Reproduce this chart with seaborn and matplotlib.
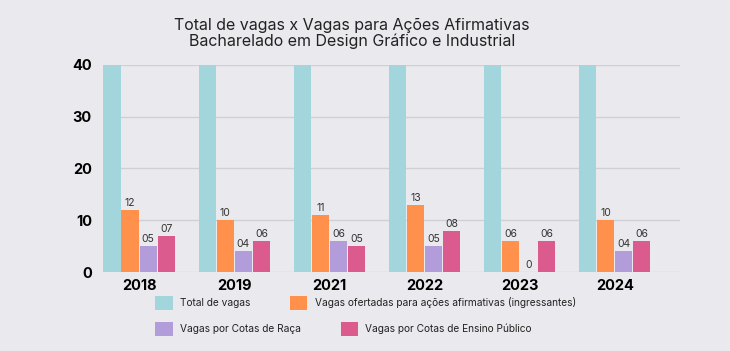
import pandas as pd
import seaborn as sns
import matplotlib.pyplot as plt
from matplotlib.patches import Patch

# dados
anos = ['2018', '2019', '2021', '2022', '2023', '2024']
total_vagas = [40, 40, 40, 40, 40, 40]
vagas_acoes = [12, 10, 11, 13, 6, 10]
cotas_raca = [5, 4, 6, 5, 0, 4]
cotas_publico = [7, 6, 5, 8, 6, 6]

series = ['Total de vagas',
          'Vagas ofertadas para ações afirmativas (ingressantes)',
          'Vagas por Cotas de Raça',
          'Vagas por Cotas de Ensino Público']
cores = ['#a2d5dc', '#ff914d', '#b29cda', '#dc5b8f']

df = pd.DataFrame({
    'ano': anos * 4,
    'serie': [s for s in series for _ in anos],
    'valor': total_vagas + vagas_acoes + cotas_raca + cotas_publico,
})

bg = '#eaeaee'
sns.set_style("white", {'axes.facecolor': bg, 'figure.facecolor': bg})
plt.rcParams['font.family'] = ['Inter', 'DejaVu Sans']

fig = plt.figure(figsize=(7.3, 3.51), dpi=100)
ax = fig.add_axes([0.141, 0.225, 0.791, 0.590])
ax.set_facecolor('none')

sns.barplot(data=df, x='ano', y='valor', hue='serie', hue_order=series,
            palette=cores, saturation=1, width=0.76, gap=0.05, ax=ax,
            legend=False, zorder=3, linewidth=0)

# rótulos dos valores
def fmt(v):
    return '0' if v == 0 else f'{v:02d}'

for cont, vals in zip(ax.containers[1:], [vagas_acoes, cotas_raca, cotas_publico]):
    ax.bar_label(cont, labels=[fmt(v) for v in vals], padding=1.5,
                 fontsize=7.5, color='#333333')

ax.set_ylim(0, 40)
ax.set_xlim(-0.38, 5.69)
ax.set_yticks([0, 10, 20, 30, 40])
ax.yaxis.grid(True, color='#cfcfd6', linewidth=1, zorder=0)
ax.set_axisbelow(True)
for s in ax.spines.values():
    s.set_visible(False)
ax.tick_params(axis='both', length=0, labelsize=10.5, colors='black')
ax.tick_params(axis='y', pad=8)
ax.tick_params(axis='x', pad=5)
for t in ax.get_xticklabels() + ax.get_yticklabels():
    t.set_fontweight('bold')
ax.set_xlabel(None)
ax.set_ylabel(None)

fig.text(0.482, 0.905, 'Total de vagas x Vagas para Ações Afirmativas\nBacharelado em Design Gráfico e Industrial',
         ha='center', va='center', fontsize=11.5, color='#222222', linespacing=1.05)

handles = [Patch(facecolor=c, edgecolor='none') for c in cores]
leg_kw = dict(ncol=2, loc='upper left', frameon=False, fontsize=7.3,
              handlelength=1.7, handleheight=1.7, handletextpad=0.7,
              borderpad=0, borderaxespad=0, columnspacing=3.95,
              labelcolor='#222222')
leg1 = fig.legend(handles[:2], series[:2], bbox_to_anchor=(0.213, 0.157), **leg_kw)
leg2 = fig.legend(handles[2:], series[2:], bbox_to_anchor=(0.213, 0.083), **leg_kw)

plt.savefig('out.png', dpi=100, facecolor=bg)
plt.close()
